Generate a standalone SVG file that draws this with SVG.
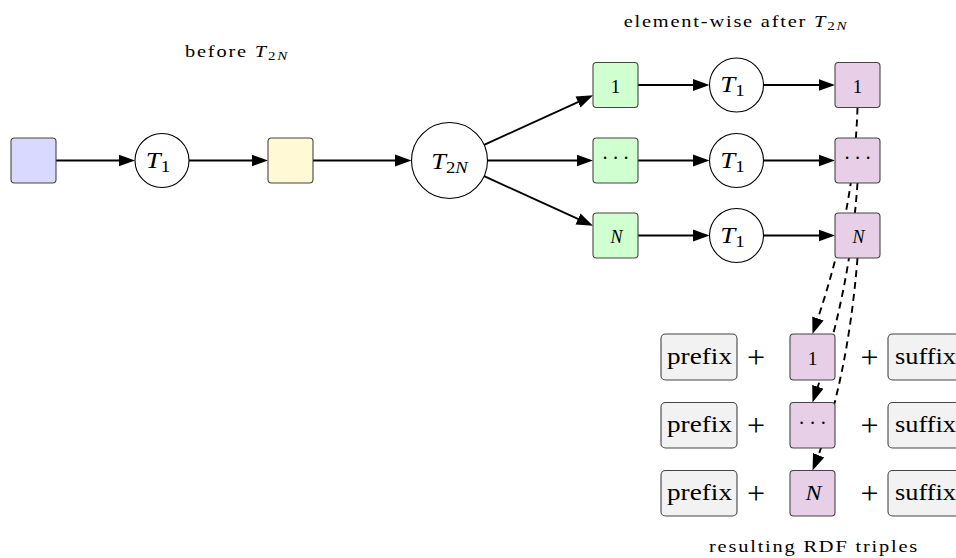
<svg xmlns="http://www.w3.org/2000/svg" width="956" height="558" viewBox="0 0 956 558">
<defs>
<style>
.box{stroke:#454545;stroke-width:1.1}
.blue{fill:#D9D9FF}
.yel{fill:#FFF9D6}
.grn{fill:#D0FFD0}
.pur{fill:#E7D0E7}
.gry{fill:#F2F2F2}
.circ{fill:#FFFFFF;stroke:#000;stroke-width:1.1}
.conn{fill:none;stroke:#000;stroke-width:1.9}
.dash{stroke-dasharray:7 5}
.t{font-family:"Liberation Serif","Times New Roman",serif;fill:#000}
.cap{font-size:17px;letter-spacing:1.5px}
.it{font-style:italic}
</style>
<marker id="ah" markerUnits="userSpaceOnUse" markerWidth="18" markerHeight="14" viewBox="0 0 18 14" refX="12.5" refY="7" orient="auto">
<path d="M16.5,7 L0,13 L0,1 Z" fill="#000"/>
</marker>
</defs>

<g id="connectors">
<path class="conn" d="M56,160.5 H131" marker-end="url(#ah)"/>
<path class="conn" d="M189,160.5 H264" marker-end="url(#ah)"/>
<path class="conn" d="M313,160.5 H407.5" marker-end="url(#ah)"/>
<path class="conn" d="M484.1,144.8 L589.4,96.9" marker-end="url(#ah)"/>
<path class="conn" d="M487.5,160.5 H589" marker-end="url(#ah)"/>
<path class="conn" d="M484.1,176.2 L589.4,224.1" marker-end="url(#ah)"/>
<path class="conn" d="M638,85 H705.5" marker-end="url(#ah)"/>
<path class="conn" d="M638,160.5 H705.5" marker-end="url(#ah)"/>
<path class="conn" d="M638,235.5 H705.5" marker-end="url(#ah)"/>
<path class="conn" d="M763.5,85 H831" marker-end="url(#ah)"/>
<path class="conn" d="M763.5,160.5 H831" marker-end="url(#ah)"/>
<path class="conn" d="M763.5,235.5 H831" marker-end="url(#ah)"/>
<path class="conn dash" d="M857.5,107.5 Q854.3,214.7 813.8,330.2" marker-end="url(#ah)"/>
<path class="conn dash" d="M857.5,183 Q850,293.4 813.8,398.7" marker-end="url(#ah)"/>
<path class="conn dash" d="M857.5,258 Q847.5,382.4 814,466.8" marker-end="url(#ah)"/>
</g>

<g id="caption-before"><text class="t cap" text-anchor="middle" transform="translate(237,56.5) scale(1.2,1)">before <tspan class="it">T</tspan><tspan font-size="12.5" dy="3.5">2<tspan class="it">N</tspan></tspan></text></g>
<g id="caption-after"><text class="t cap" text-anchor="middle" transform="translate(736,26.5) scale(1.2,1)">element-wise after <tspan class="it">T</tspan><tspan font-size="12.5" dy="3.5">2<tspan class="it">N</tspan></tspan></text></g>
<g id="caption-rdf"><text class="t cap" text-anchor="middle" transform="translate(814,552) scale(1.2,1)">resulting RDF triples</text></g>

<g id="n-input"><rect class="box blue" x="11" y="138" width="45" height="45" rx="3.5"/></g>
<g id="n-t1"><circle class="circ" cx="162" cy="160.5" r="27"/><text class="t" font-size="24" text-anchor="middle" transform="translate(158,167.7) scale(1.12,1)"><tspan class="it">T</tspan><tspan font-size="17" dy="4">1</tspan></text></g>
<g id="n-mid"><rect class="box yel" x="268" y="138" width="45" height="45" rx="3.5"/></g>
<g id="n-t2n"><circle class="circ" cx="449.5" cy="160.5" r="38"/><text class="t" font-size="24" text-anchor="middle" transform="translate(449.5,169) scale(1.1,1)"><tspan class="it">T</tspan><tspan font-size="17" dy="4.3">2<tspan class="it">N</tspan></tspan></text></g>

<g id="n-g1"><rect class="box grn" x="593" y="62.5" width="45" height="45" rx="3.5"/><text class="t" font-size="19" text-anchor="middle" x="615.5" y="92.7">1</text></g>
<g id="n-gdots"><rect class="box grn" x="593" y="138" width="45" height="45" rx="3.5"/><text class="t" font-size="20" text-anchor="middle" x="605 615.5 626" y="164.5">···</text></g>
<g id="n-gN"><rect class="box grn" x="593" y="213" width="45" height="45" rx="3.5"/><text class="t it" font-size="18" text-anchor="middle" x="616.5" y="243.3">N</text></g>

<g id="n-t1-1"><circle class="circ" cx="736.5" cy="85" r="27"/><text class="t" font-size="24" text-anchor="middle" transform="translate(732.5,92.2) scale(1.12,1)"><tspan class="it">T</tspan><tspan font-size="17" dy="4">1</tspan></text></g>
<g id="n-t1-dots"><circle class="circ" cx="736.5" cy="160.5" r="27"/><text class="t" font-size="24" text-anchor="middle" transform="translate(732.5,167.7) scale(1.12,1)"><tspan class="it">T</tspan><tspan font-size="17" dy="4">1</tspan></text></g>
<g id="n-t1-N"><circle class="circ" cx="736.5" cy="235.5" r="27"/><text class="t" font-size="24" text-anchor="middle" transform="translate(732.5,242.7) scale(1.12,1)"><tspan class="it">T</tspan><tspan font-size="17" dy="4">1</tspan></text></g>

<g id="n-p1"><rect class="box pur" x="835" y="62.5" width="45" height="45" rx="3.5"/><text class="t" font-size="19" text-anchor="middle" x="857.5" y="92.7">1</text></g>
<g id="n-pdots"><rect class="box pur" x="835" y="138" width="45" height="45" rx="3.5"/><text class="t" font-size="20" text-anchor="middle" x="847 857.5 868" y="164.5">···</text></g>
<g id="n-pN"><rect class="box pur" x="835" y="213" width="45" height="45" rx="3.5"/><text class="t it" font-size="18" text-anchor="middle" x="858.5" y="243.3">N</text></g>

<g id="r1-prefix"><rect class="box gry" x="661" y="334" width="76" height="46" rx="4.5"/><text class="t" font-size="24" x="667" y="363.5" textLength="65" lengthAdjust="spacingAndGlyphs">prefix</text></g>
<g id="r1-plus1"><text class="t" font-size="32" text-anchor="middle" x="756" y="368">+</text></g>
<g id="r1-item"><rect class="box pur" x="790" y="334" width="45" height="46" rx="3.5"/><text class="t" font-size="19.5" text-anchor="middle" x="812.5" y="365">1</text></g>
<g id="r1-plus2"><text class="t" font-size="32" text-anchor="middle" x="869.5" y="368">+</text></g>
<g id="r1-suffix"><rect class="box gry" x="888" y="334" width="76" height="46" rx="4.5"/><text class="t" font-size="24" x="895" y="363.5" textLength="61" lengthAdjust="spacingAndGlyphs">suffix</text></g>

<g id="r2-prefix"><rect class="box gry" x="661" y="402.5" width="76" height="45.5" rx="4.5"/><text class="t" font-size="24" x="667" y="431.8" textLength="65" lengthAdjust="spacingAndGlyphs">prefix</text></g>
<g id="r2-plus1"><text class="t" font-size="32" text-anchor="middle" x="756" y="436.3">+</text></g>
<g id="r2-item"><rect class="box pur" x="790" y="402.5" width="45" height="45.5" rx="3.5"/><text class="t" font-size="20" text-anchor="middle" x="801.7 812.5 823.3" y="430.3">···</text></g>
<g id="r2-plus2"><text class="t" font-size="32" text-anchor="middle" x="869.5" y="436.3">+</text></g>
<g id="r2-suffix"><rect class="box gry" x="888" y="402.5" width="76" height="45.5" rx="4.5"/><text class="t" font-size="24" x="895" y="431.8" textLength="61" lengthAdjust="spacingAndGlyphs">suffix</text></g>

<g id="r3-prefix"><rect class="box gry" x="661" y="470.5" width="76" height="45.5" rx="4.5"/><text class="t" font-size="24" x="667" y="499.8" textLength="65" lengthAdjust="spacingAndGlyphs">prefix</text></g>
<g id="r3-plus1"><text class="t" font-size="32" text-anchor="middle" x="756" y="504.3">+</text></g>
<g id="r3-item"><rect class="box pur" x="790" y="470.5" width="45" height="45.5" rx="3.5"/><text class="t it" font-size="20" text-anchor="middle" transform="translate(813.5,500) scale(1.2,1)">N</text></g>
<g id="r3-plus2"><text class="t" font-size="32" text-anchor="middle" x="869.5" y="504.3">+</text></g>
<g id="r3-suffix"><rect class="box gry" x="888" y="470.5" width="76" height="45.5" rx="4.5"/><text class="t" font-size="24" x="895" y="499.8" textLength="61" lengthAdjust="spacingAndGlyphs">suffix</text></g>
</svg>
